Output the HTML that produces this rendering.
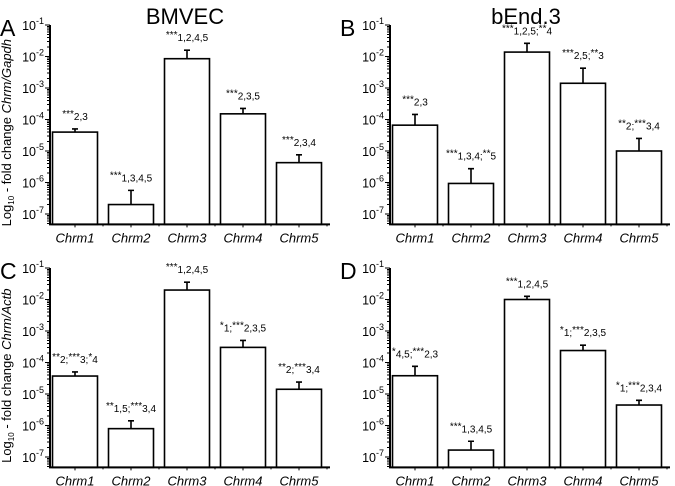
<!DOCTYPE html>
<html><head><meta charset="utf-8"><style>
html,body{margin:0;padding:0;background:#fff;}
svg{display:block;font-family:"Liberation Sans",Arial,sans-serif;}
</style></head><body>
<svg id="chart" width="675" height="486" viewBox="0 0 675 486">
<text x="185" y="24" font-size="22" text-anchor="middle">BMVEC</text>
<text x="526" y="24" font-size="22" text-anchor="middle">bEnd.3</text>
</svg>
<script>
const categories = ["Chrm1","Chrm2","Chrm3","Chrm4","Chrm5"];
const tickExps = [-1,-2,-3,-4,-5,-6,-7];
const valsA = [-4.4,-6.7,-2.07,-3.82,-5.37];
const errA  = [-4.3,-6.25,-1.8,-3.65,-5.12];
const valsB = [-4.18,-6.03,-1.86,-2.85,-5.0];
const errB  = [-3.84,-5.56,-1.58,-2.37,-4.6];
const valsC = [-4.43,-6.1,-1.7,-3.52,-4.85];
const errC  = [-4.3,-5.85,-1.45,-3.3,-4.62];
const valsD = [-4.42,-6.78,-2.0,-3.62,-5.35];
const errD  = [-4.12,-6.5,-1.9,-3.45,-5.2];
const annA = ["***2,3","***1,3,4,5","***1,2,4,5","***2,3,5","***2,3,4"];
const annB = ["***2,3","***1,3,4;**5","***1,2,5;**4","***2,5;**3","**2;***3,4"];
const annC = ["**2;***3;*4","**1,5;***3,4","***1,2,4,5","*1;***2,3,5","**2;***3,4"];
const annD = ["*4,5;***2,3","***1,3,4,5","***1,2,4,5","*1;***2,3,5","*1;***2,3,4"];

const svg = document.getElementById('chart');
const NS = 'http://www.w3.org/2000/svg';
function mk(tag, attrs, parent){
  const e = document.createElementNS(NS, tag);
  for (const k in attrs) e.setAttribute(k, attrs[k]);
  (parent||svg).appendChild(e);
  return e;
}
function panel(letter, ox, top, vals, errs, anns, ylabel){
  const dec = 31.5;
  const y = v => top + (-1 - v) * dec;
  const bottom = y(-7.33);
  const right = ox + 280;
  const step = 56, bw = 45;
  const xc = i => ox + 25 + i*step;
  const g = mk('g', {});
  
  
  const L = mk('text', {x: ox-50, y: top+11, 'font-size': 23}, g);
  L.textContent = letter;
  
  
  vals.forEach((v,i)=>{
    const b = mk('rect', {x: xc(i)-bw/2, y: y(v), width: bw, height: bottom - y(v), fill:'#fff', stroke:'#000', 'stroke-width':1.6}, g);
    
    
    const e = mk('path', {d:`M${xc(i)},${y(v)}V${y(errs[i])}M${xc(i)-3},${y(errs[i])}H${xc(i)+3}`, stroke:'#000', 'stroke-width':1.6, fill:'none'}, g);
    
    
    const t = mk('text', {x: xc(i), y: y(errs[i]) - 9, 'font-size': 10, 'text-anchor':'middle'}, g);
    
    
    const parts = anns[i].match(/\*+|[^*]+/g);
    parts.forEach(p=>{
      const s = mk('tspan', {}, t);
      if (p[0]==='*') { s.setAttribute('dy', -3); }
      else { s.setAttribute('dy', 3); }
      s.textContent = p;
    });
    const xl = mk('text', {x: xc(i), y: bottom + 18, 'font-size': 13, 'font-style':'italic', 'text-anchor':'middle'}, g);
    xl.textContent = categories[i];
    
    
  });
  const ax = mk('path', {d:`M${ox},${y(-1)}V${bottom}H${right}`, stroke:'#000','stroke-width':2, fill:'none'}, g);
  
  
  let d = '';
  for (let e=-1; e>=-7; e--) {
    d += `M${ox-5},${y(e)}H${ox}`;
    for (let m=2;m<=9;m++){ const v = e-1+Math.log10(m); if (v > -7.33) d += `M${ox-3},${y(v)}H${ox}`; }
  }
  for (let i=0;i<5;i++){ d += `M${xc(i)},${bottom}V${bottom+3}`; d += `M${xc(i)+step/2},${bottom}V${bottom+2}`; }
  mk('path', {d, stroke:'#000','stroke-width':1, fill:'none'}, g);
  tickExps.forEach(e=>{
    const t = mk('text', {x: ox-6, y: y(e)+5, 'font-size': 12.5, 'text-anchor':'end'}, g);
    
    
    const a = mk('tspan', {}, t); a.textContent = '10';
    const b = mk('tspan', {dy:-6, 'font-size':9}, t); b.textContent = String(e);
  });
  if (ylabel) {
    const cy = (y(-1)+bottom)/2 + 8;
    const t = mk('text', {x: 0, y: 0, 'font-size': 13, 'text-anchor':'middle', transform:`translate(${ox-39},${cy}) rotate(-90)`}, g);
    
    
    const a = mk('tspan', {}, t); a.textContent = 'Log';
    const b = mk('tspan', {dy:3, 'font-size':8}, t); b.textContent = '10';
    const c = mk('tspan', {dy:-3}, t); c.textContent = ' - fold change ';
    const dd = mk('tspan', {'font-style':'italic'}, t); dd.textContent = ylabel;
  }
}
panel('A', 50, 25, valsA, errA, annA, 'Chrm/Gapdh');
panel('B', 390, 25, valsB, errB, annB, null);
panel('C', 50, 268, valsC, errC, annC, 'Chrm/Actb');
panel('D', 390, 268, valsD, errD, annD, null);
</script>
</body></html>
